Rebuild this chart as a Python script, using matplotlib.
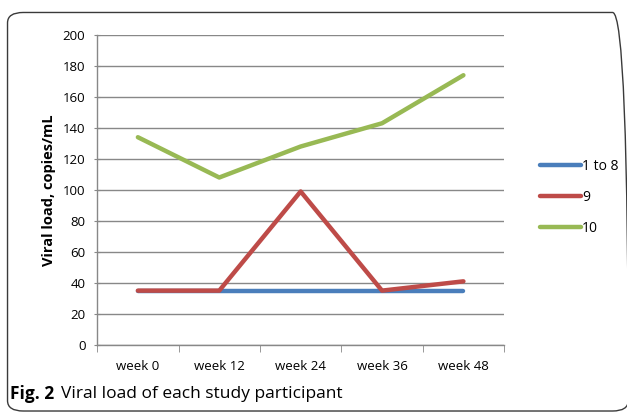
import matplotlib
matplotlib.use('Agg')
import matplotlib.pyplot as plt
from matplotlib.patches import FancyBboxPatch

plt.rcParams['font.family'] = ['Open Sans', 'DejaVu Sans']

weeks = ['week 0', 'week 12', 'week 24', 'week 36', 'week 48']
series_names = ['1 to 8', '9', '10']
load_1to8 = [35, 35, 35, 35, 35]
load_9 = [35, 35, 99, 35, 41]
load_10 = [134, 108, 128, 143, 174]
colors = ['#4a7ebb', '#be4b48', '#98b954']

fig = plt.figure(figsize=(6.27, 4.16), dpi=100)

# rounded frame around the figure
frame = FancyBboxPatch((0.012, 0.012), 0.99, 0.958, boxstyle='round,pad=0,rounding_size=0.025',
                       transform=fig.transFigure, fill=False, edgecolor='#3a3a3a', linewidth=1.0)
fig.patches.append(frame)

ax = fig.add_axes([0.155, 0.171, 0.649, 0.745])
x = list(range(len(weeks)))
for vals, name, c in zip([load_1to8, load_9, load_10], series_names, colors):
    ax.plot(x, vals, color=c, linewidth=3.2, label=name, solid_capstyle='round')

ax.set_xlim(-0.5, len(weeks) - 0.5)
ax.set_ylim(0, 200)
ax.set_yticks(range(0, 201, 20))
ax.set_xticks(x)
ax.set_xticklabels(weeks)
ax.set_xticks([i - 0.5 for i in range(len(weeks) + 1)], minor=True)
ax.tick_params(axis='x', which='major', length=0, pad=11, labelsize=9.5)
ax.tick_params(axis='x', which='minor', length=5, color='#888888', direction='out')
ax.tick_params(axis='y', length=5, color='#888888', direction='inout', labelsize=9.5, pad=6)
ax.grid(axis='y', color='#888888', linewidth=1.0)
ax.set_axisbelow(True)
for s in ['top', 'right']:
    ax.spines[s].set_visible(False)
for s in ['left', 'bottom']:
    ax.spines[s].set_color('#888888')
    ax.spines[s].set_linewidth(1.0)
ax.set_ylabel('Viral load, copies/mL', fontsize=10.5, fontweight='bold', labelpad=5)

ax.legend(loc='center left', bbox_to_anchor=(1.07, 0.475), frameon=False, fontsize=10,
          handlelength=3.0, handletextpad=0.05, labelspacing=1.15, borderpad=0)

fig.text(0.016, 0.052, 'Fig. 2', fontsize=12.5, fontweight='bold', va='center')
fig.text(0.097, 0.052, 'Viral load of each study participant', fontsize=12.5, va='center')

fig.savefig('out.png', dpi=100)
